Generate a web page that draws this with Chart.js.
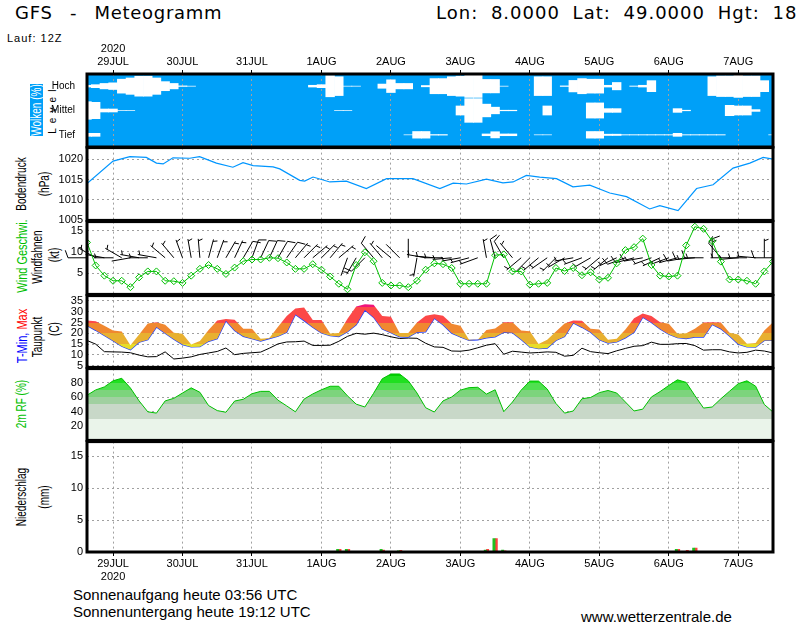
<!DOCTYPE html>
<html><head><meta charset="utf-8">
<script src="https://cdn.jsdelivr.net/npm/chart.js@4.4.1/dist/chart.umd.min.js"></script>
<style>
body{margin:0;width:800px;height:625px;position:relative;overflow:hidden;background:#fff;font-family:"Liberation Sans",Arial,sans-serif;color:#000}
canvas{position:absolute;left:0}
.t{position:absolute;white-space:pre;line-height:1}
.r{position:absolute;white-space:pre;line-height:1;font-size:10px;transform:translate(-50%,-50%) rotate(-90deg) scaleY(1.4)}
</style></head><body>
<div class="t" style="left:15px;top:4px;font-family:'DejaVu Sans';font-size:18px;letter-spacing:0.7px;word-spacing:11px">GFS - Meteogramm</div>
<div class="t" style="left:436px;top:4px;font-family:'DejaVu Sans';font-size:18px;letter-spacing:1px;word-spacing:6px">Lon: 8.0000 Lat: 49.0000 Hgt: 18</div>
<div class="t" style="left:7px;top:33px;font-size:11px;letter-spacing:1px">Lauf: 12Z</div>
<div style="position:absolute;left:30px;top:84px;width:13px;height:52px;background:#00a0f8"></div>
<div class="r" style="left:36.5px;top:110px;color:#fff">Wolken (%)</div>
<div class="r" style="left:53px;top:111px;letter-spacing:1.2px;transform:translate(-50%,-50%) rotate(-90deg) scaleY(1.15)">L e v e l</div>
<div class="r" style="left:22px;top:184px">Bodendruck</div>
<div class="r" style="left:45px;top:184px">(hPa)</div>
<div class="r" style="left:22px;top:256px;font-size:11px;color:#00c000">Wind Geschwi.</div>
<div class="r" style="left:38px;top:257px">Windfahnen</div>
<div class="r" style="left:55px;top:255px">(kt)</div>
<div class="r" style="left:22px;top:336px;font-size:11px"><span style="color:#0000ff">T-Min,</span> <span style="color:#ff0000">Max</span></div>
<div class="r" style="left:38px;top:337px">Taupunkt</div>
<div class="r" style="left:55px;top:329px">(C)</div>
<div class="r" style="left:22px;top:404px;color:#00c000">2m RF (%)</div>
<div class="r" style="left:22px;top:497px">Niederschlag</div>
<div class="r" style="left:45px;top:497px">(mm)</div>
<div class="t" style="left:73px;top:587px;font-size:15px">Sonnenaufgang heute 03:56 UTC</div>
<div class="t" style="left:73px;top:604px;font-size:15px">Sonnenuntergang heute 19:12 UTC</div>
<div class="t" style="left:581px;top:609px;font-size:15px">www.wetterzentrale.de</div>
<script>
// ---------- DATA ----------
const hours=[3,6,9,12,15,18,21,24,27,30,33,36,39,42,45,48,51,54,57,60,63,66,69,72,75,78,81,84,87,90,93,96,99,102,105,108,111,114,117,120,123,126,129,132,135,138,141,144,147,150,153,156,159,162,165,168,171,174,177,180,183,186,189,192,195,198,201,204,207,210,213,216,219,222,225,228,231,234,237,240];
const dayTicks=[12,36,60,84,108,132,156,180,204,228];
const dayLabels=["29JUL","30JUL","31JUL","1AUG","2AUG","3AUG","4AUG","5AUG","6AUG","7AUG"];
const yearLabel="2020";
const cloudLevels=["Tief","Mittel","Hoch"];
const cloudHigh=[10,15,25,30,60,70,85,85,70,40, 25,5,3,0,0,0,0,0,0,0, 0,0,0,0,0,0,10,15,90,80, 3,3,0,0,20,55,25,25,0,8, 65,65,80,85,95,95,58,58,3,0, 0,0,80,80,0,5,50,65,60,60, 10,33,0,4,10,48,0,0,0,0, 0,0,80,88,88,95,88,88,48,0];
const cloudMid=[75,70,15,15,3,3,0,0,0,0, 0,0,0,0,0,0,0,0,0,0, 0,0,0,0,0,0,0,0,0,3, 3,0,0,0,0,0,0,0,0,0, 0,0,0,40,100,100,55,30,5,5, 0,0,0,40,0,0,0,0,65,65, 18,18,0,0,0,0,0,0,18,5, 0,0,0,0,45,40,40,10,0,0];
const cloudLow=[15,15,0,0,0,0,0,0,0,0, 0,0,0,0,0,0,0,0,0,0, 0,0,0,0,0,0,0,0,0,0, 0,0,0,0,0,0,0,3,30,30, 5,5,0,0,0,0,10,28,10,10, 0,0,3,3,0,0,0,0,30,30, 8,8,4,4,4,4,4,4,15,4, 4,4,4,4,0,0,0,0,0,3];
const pressureHours=[3,12,17.8,23.5,27,29.3,32.7,38.5,41.9,47.7,53.4,56.9,60.4,67.3,69.6,76.5,78.2,81.1,86.9,92.6,99.5,106.5,115.6,124.9,129.5,134.1,141,146.7,150.2,154.8,159.4,165.2,170.9,176.7,183.6,189.4,197.4,200.9,207.2,213.6,219.3,226.2,232,236.6,240];
const pressure=[1014.0,1019.5,1020.6,1020.4,1019.0,1018.8,1020.3,1020.2,1020.6,1019.0,1018.0,1019.1,1018.4,1018.1,1017.6,1014.8,1014.6,1015.6,1014.4,1014.6,1012.8,1015.2,1015.2,1012.8,1014.1,1013.9,1015.1,1014.2,1014.4,1016.0,1015.6,1015.2,1013.2,1013.6,1011.7,1010.8,1007.8,1008.6,1007.4,1012.8,1013.7,1017.8,1019.0,1020.4,1020.0];
const windSpeed=[12.2,6.8,4.4,3.2,3.2,1.7,4.0,5.4,5.4,3.2, 3.1,2.7,4.4,6.0,6.9,6.0,4.8,6.3,7.8,8.2, 8.2,8.6,8.5,7.5,6.0,6.0,7.1,5.8,4.2,2.5, 1.2,6.9,9.9,7.8,2.7,2.1,2.1,1.7,3.2,5.8, 7.3,7.1,6.2,2.5,2.5,2.5,2.5,9.2,9.4,5.4, 5.4,2.3,2.5,2.7,6.2,5.5,6.2,4.5,5.2,3.5, 3.9,7.3,10.4,11.1,13.1,6.9,4.4,4.2,4.4,11.5, 15.9,15.4,12.5,7.7,3.5,3.5,3.2,2.5,5.4,7.7];
const windDir=[270,300,280,270,300,260,280,270,280,310, 320,340,350,355,15,20,30,25,30,20, 25,25,30,35,40,45,50,45,40,50, 200,210,225,320,320,310,315,0,190,280, 275,270,265,260,255,250,350,345,330,320, 230,225,230,235,225,240,260,250,240,230, 230,245,250,255,260,250,245,250,255,260, 265,270,0,320,270,265,270,275,0,270];
const tMax=[25.9,25.6,23.5,21.3,20.8,14.5,19.5,24.6,25.1,24.0, 20.3,19.8,14.8,16.5,21.5,26.0,26.6,26.3,22.1,22.1, 17.5,17.8,23.0,28.0,31.5,32.0,26.2,26.2,19.9,20.1, 26.8,32.5,33.5,33.3,28.0,27.7,20.1,20.1,25.0,28.1, 28.9,28.2,24.4,23.5,17.0,17.0,21.6,22.2,25.1,25.1, 21.3,21.0,15.0,17.0,20.8,24.6,25.9,25.8,22.1,21.8, 17.0,17.5,21.8,27.0,29.2,28.0,25.1,24.5,19.8,20.0, 22.1,25.0,25.1,25.0,20.3,19.5,15.2,15.5,21.3,25.1];
const tMin=[23.6,21.4,19.0,16.6,14.0,12.4,15.9,17.0,22.9,20.0, 17.3,14.8,13.7,13.8,16.3,17.5,25.8,21.3,18.6,17.5, 16.4,17.6,18.7,20.5,28.7,25.9,22.8,20.2,18.9,18.5, 20.7,24.0,30.8,27.5,22.0,20.3,18.4,18.3,20.5,20.7, 27.0,24.0,20.1,18.3,16.7,17.0,17.9,18.4,20.5,20.3, 17.1,13.7,12.9,13.2,16.7,18.5,24.8,22.8,20.5,17.0, 15.5,16.0,17.9,20.5,27.5,25.0,22.0,19.6,18.0,17.6, 18.3,18.3,24.1,22.1,18.8,15.0,13.7,13.6,16.7,16.7];
const dewPoint=[16.7,15.0,11.5,11.4,11.3,11.0,9.9,9.1,9.2,11.4, 8.1,8.5,9.1,10.2,10.9,11.6,13.2,10.1,10.7,11.0, 11.3,13.1,15.1,16.0,16.1,16.4,14.4,14.4,14.5,16.3, 18.6,20.0,19.6,20.1,19.4,18.4,17.6,17.8,17.7,15.4, 13.7,13.5,11.8,11.7,12.2,13.3,14.5,15.2,10.3,11.7, 11.3,10.9,11.1,11.4,11.2,9.4,9.8,13.1,11.5,11.0, 10.6,11.9,13.0,14.0,14.3,15.9,14.9,14.9,15.2,15.3, 14.3,12.2,12.4,12.4,11.4,10.9,11.2,12.2,11.8,10.9];
const relHum=[62.9,70.3,74.5,83.0,86.5,73.0,55.0,39.8,38.0,55.0, 58.6,66.0,73.2,67.0,48.5,41.5,39.2,54.8,57.3,65.0, 68.3,68.3,56.0,48.0,39.8,57.5,64.7,70.5,75.4,75.4, 62.0,50.5,46.5,65.5,85.8,92.5,92.5,83.0,66.0,45.5, 39.5,55.0,60.5,70.0,73.5,74.0,64.5,70.5,40.0,53.5, 70.0,82.6,82.6,71.5,51.5,38.0,41.0,58.0,59.8,66.5, 69.5,66.0,53.5,41.0,43.5,60.5,68.0,76.5,84.4,80.8, 62.5,45.0,46.5,58.0,68.5,79.0,83.0,75.5,50.0,39.5];
const precipHours=[90,93,105,111,141,144,147,207,210,213,216];
const precipGreen=[0.4,0.4,0.4,0.2,0.3,2.1,0.3,0.4,0.1,0.6,0.0];
const precipRed=[0.4,0.4,0.3,0.25,0.4,2.1,0.2,0.4,0.25,0.6,0.1];

// ---------- STYLE ----------
const BLUE='#00a0f8', GRID='#a0a0a0', DASH=[2,3], M=10, BARB_LEVEL=8.6;
const tempBands=[[-20,15,'#e8dc28'],[15,20,'#e8b030'],[20,25,'#f08830'],[25,32,'#fc4848'],[32,60,'#f0147a']];
const rhBands=[[0,30,'#eaf4ea'],[30,50,'#c8d8c8'],[50,60,'#a0d0a0'],[60,70,'#7cd47c'],[70,80,'#50e050'],[80,90,'#20e020'],[90,101,'#00d000']];

Chart.defaults.font.family="'Liberation Sans', Arial, sans-serif";
Chart.defaults.font.size=11;
Chart.defaults.color='#000';
Chart.defaults.animation=false;
Chart.defaults.responsive=false;
Chart.defaults.maintainAspectRatio=false;
Chart.defaults.devicePixelRatio=1;
Chart.defaults.plugins.legend.display=false;
Chart.defaults.plugins.tooltip.enabled=false;

const frame={id:'frame',afterDraw(c){const a=c.chartArea,x=c.ctx;x.save();x.strokeStyle='#000';x.lineWidth=3;x.strokeRect(a.left,a.top,a.right-a.left,a.bottom-a.top);x.restore();}};
const bg={id:'bg',beforeDraw(c,args,o){if(!o||!o.color)return;const a=c.chartArea;c.ctx.save();c.ctx.fillStyle=o.color;c.ctx.fillRect(a.left,a.top,a.right-a.left,a.bottom-a.top);c.ctx.restore();}};

function mk(top,height){const c=document.createElement('canvas');c.width=800;c.height=height;c.style.top=top+'px';document.body.appendChild(c);return c;}
function xAxis(){return {type:'linear',min:3,max:240,offset:false,
  afterBuildTicks:s=>{s.ticks=dayTicks.map(v=>({value:v}));},
  ticks:{display:false},grid:{color:GRID,drawTicks:false,offset:false},
  border:{display:false,dash:DASH},afterFit:s=>{s.height=0;},z:1};}
function yAxis(min,max,ticks){return {type:'linear',min:min,max:max,
  afterBuildTicks:s=>{s.ticks=ticks.map(v=>({value:v}));},
  afterFit:s=>{s.width=87;},
  ticks:{padding:4,font:{size:11},color:'#000',autoSkip:false,callback:v=>String(v)},
  grid:{color:GRID,drawTicks:false},border:{display:false,dash:DASH},z:1};}
function layout(top,bottom){return {autoPadding:false,padding:{left:0,right:27,top:top,bottom:bottom}};}
function bandGradient(chart,bands){
  const {ctx,chartArea,scales}=chart; const y=scales.y;
  if(!chartArea||!y) return null;
  const p0=y.getPixelForValue(y.min), p1=y.getPixelForValue(y.max);
  const g=ctx.createLinearGradient(0,p0,0,p1);
  const cl=v=>Math.max(0,Math.min(1,(v-y.min)/(y.max-y.min)));
  bands.forEach(b=>{g.addColorStop(cl(b[0]),b[2]);g.addColorStop(cl(b[1]),b[2]);});
  return g;
}
function dayTickLabel(v,bottom){const i=dayTicks.indexOf(v);if(i!==0)return dayLabels[i];return bottom?[dayLabels[i],yearLabel]:[yearLabel,dayLabels[i]];}

// ---------- CLOUDS ----------
function level(arr,center){
  const d=[];hours.forEach((h,i)=>{if(arr[i]>0)d.push({x:h,y:[center-arr[i]/200,center+arr[i]/200]});});
  return {data:d,backgroundColor:'#fff',borderWidth:0,barPercentage:1.08,categoryPercentage:1,grouped:false};
}
new Chart(mk(40,117),{type:'bar',
  data:{datasets:[level(cloudLow,0.5),level(cloudMid,1.5),level(cloudHigh,2.5)]},
  options:{layout:layout(0,M),plugins:{bg:{color:BLUE}},
    scales:{
      x:{type:'linear',position:'top',min:3,max:240,offset:false,
        afterBuildTicks:s=>{s.ticks=dayTicks.map(v=>({value:v}));},
        ticks:{autoSkip:false,maxRotation:0,padding:1,font:{size:11},callback:v=>dayTickLabel(v,false)},
        grid:{color:GRID,drawTicks:true,tickLength:4,tickColor:'#000',tickWidth:1,offset:false},
        border:{display:false,dash:DASH},afterFit:s=>{s.height=34;},z:1},
      y:{type:'linear',min:0,max:3,
        afterBuildTicks:s=>{s.ticks=[0.5,1.5,2.5].map(v=>({value:v}));},
        ticks:{padding:4,autoSkip:false,font:{size:10},callback:(v,i)=>cloudLevels[i]},
        grid:{display:false},border:{display:false},afterFit:s=>{s.width=87;}}}},
  plugins:[bg,frame]});

// ---------- PRESSURE ----------
new Chart(mk(147-M,74+2*M),{type:'line',
  data:{datasets:[{data:pressureHours.map((h,i)=>({x:h,y:pressure[i]})),borderColor:'#0096ff',borderWidth:1.2,pointRadius:0,tension:0}]},
  options:{layout:layout(M,M),scales:{x:xAxis(),y:yAxis(1005,1022.8,[1005,1010,1015,1020])}},
  plugins:[frame]});

// ---------- WIND ----------
const barbs={id:'barbs',beforeDatasetsDraw(c){
  const xs=c.scales.x,ys=c.scales.y,ctx=c.ctx;ctx.save();ctx.strokeStyle='#000';ctx.lineWidth=1;
  const th=70*Math.PI/180;
  hours.forEach((h,i)=>{
    const px=xs.getPixelForValue(h),py=ys.getPixelForValue(BARB_LEVEL);
    const r=windDir[i]*Math.PI/180,ux=Math.sin(r),uy=-Math.cos(r),L=19;
    const tx=px+ux*L,ty=py+uy*L;
    const bx=ux*Math.cos(th)-uy*Math.sin(th),by=ux*Math.sin(th)+uy*Math.cos(th);
    ctx.beginPath();ctx.moveTo(px,py);ctx.lineTo(tx,ty);
    let s=Math.round(windSpeed[i]/5)*5,pos=0;
    while(s>=10){const sx=tx-ux*pos,sy=ty-uy*pos;ctx.moveTo(sx,sy);ctx.lineTo(sx+bx*8,sy+by*8);pos+=3;s-=10;}
    if(s>=5){const q=pos||2;const sx=tx-ux*q,sy=ty-uy*q;ctx.moveTo(sx,sy);ctx.lineTo(sx+bx*4.5,sy+by*4.5);}
    ctx.stroke();
  });
  ctx.restore();}};
new Chart(mk(221-M,74+2*M),{type:'line',
  data:{datasets:[{data:hours.map((h,i)=>({x:h,y:windSpeed[i]})),borderColor:'#00c000',borderWidth:1,
    pointStyle:'rectRot',pointRadius:3.5,pointBorderColor:'#00c000',pointBackgroundColor:'rgba(0,0,0,0)',pointBorderWidth:1,tension:0}]},
  options:{layout:layout(M,M),scales:{x:xAxis(),y:yAxis(0,17.1,[5,10,15])}},
  plugins:[barbs,frame]});

// ---------- TEMPERATURE ----------
new Chart(mk(295-M,73+2*M),{type:'line',
  data:{datasets:[
    {data:hours.map((h,i)=>({x:h,y:tMax[i]})),borderWidth:0,pointRadius:0,fill:'+1',
      backgroundColor:c=>bandGradient(c.chart,tempBands)||'#f08830'},
    {data:hours.map((h,i)=>({x:h,y:tMin[i]})),borderColor:'#2040ff',borderWidth:1.3,pointRadius:0,fill:false},
    {data:hours.map((h,i)=>({x:h,y:dewPoint[i]})),borderColor:'#000',borderWidth:1,pointRadius:0,fill:false}]},
  options:{layout:layout(M,M),scales:{x:xAxis(),y:yAxis(4.2,37.5,[5,10,15,20,25,30,35])}},
  plugins:[frame]});

// ---------- RELATIVE HUMIDITY ----------
new Chart(mk(368-M,73+2*M),{type:'line',
  data:{datasets:[{data:hours.map((h,i)=>({x:h,y:relHum[i]})),borderColor:'#00c000',borderWidth:1,pointRadius:0,fill:'origin',
    backgroundColor:c=>bandGradient(c.chart,rhBands)||'#c8d8c8'}]},
  options:{layout:layout(M,M),scales:{x:xAxis(),y:yAxis(0,100,[20,40,60,80])}},
  plugins:[frame]});

// ---------- PRECIPITATION ----------
new Chart(mk(441-M,590-441+M),{type:'bar',
  data:{datasets:[
    {data:precipHours.map((h,i)=>({x:h,y:precipGreen[i]})),backgroundColor:'#20c020',barThickness:2.3},
    {data:precipHours.map((h,i)=>({x:h,y:precipRed[i]})),backgroundColor:'#ff4040',barThickness:2.3}]},
  options:{layout:layout(M,0),
    scales:{
      x:{type:'linear',position:'bottom',min:3,max:240,offset:false,
        afterBuildTicks:s=>{s.ticks=dayTicks.map(v=>({value:v}));},
        ticks:{autoSkip:false,maxRotation:0,padding:1,font:{size:11},callback:v=>dayTickLabel(v,true)},
        grid:{color:GRID,drawTicks:true,tickLength:4,tickColor:'#000',tickWidth:1,offset:false},
        border:{display:false,dash:DASH},afterFit:s=>{s.height=38;},z:1},
      y:yAxis(0,17.3,[0,5,10,15])}},
  plugins:[frame]});
</script>
</body></html>
